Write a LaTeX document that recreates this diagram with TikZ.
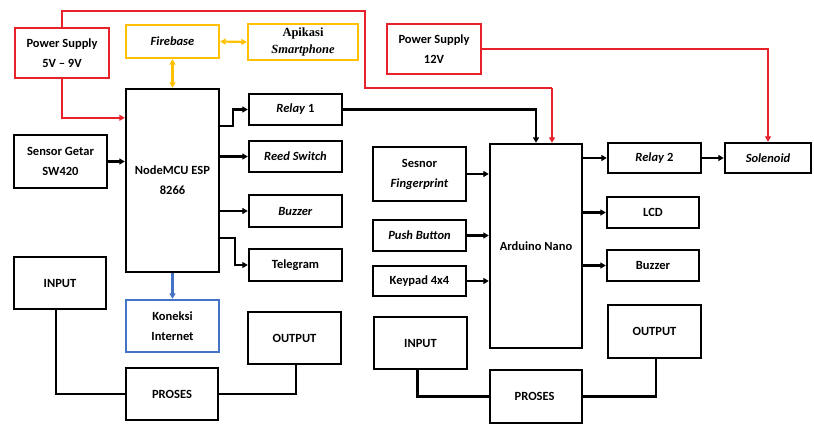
\documentclass[tikz,border=0pt]{standalone}
\usepackage{fontspec}
\setmainfont{Carlito}
\newfontfamily\appfont{Liberation Serif}
\usepackage{xcolor}
\usepackage{tikz}
\usetikzlibrary{arrows.meta,positioning,calc}
\definecolor{pwrRed}{HTML}{E8212B}
\definecolor{cloudOr}{HTML}{FFC000}
\definecolor{netBlue}{HTML}{4472C4}
\tikzset{
  blk/.style = {rectangle, draw, line width=2.4pt, inner sep=1pt, align=center, fill=white},
  pwr/.style = {draw=pwrRed, line width=2.2pt},
  wire/.style = {line width=2.2pt, -{Triangle[length=5.5pt,width=6pt]}},
  link/.style = {line width=2.2pt},
}

\begin{document}
\begin{tikzpicture}[x=1pt,y=-1pt,font=\bfseries\fontsize{12.5}{20}\selectfont]
  \useasboundingbox (0,0) rectangle (814,425);

  \foreach \n/\x/\y/\w/\h/\t in {
    node/172.5/180.5/93/183/{NodeMCU ESP\\8266},
    getar/60.5/161.5/93/53/{Sensor Getar\\SW420},
    relayA/295.5/109.5/93/31/{\textit{Relay} 1},
    reed/295.5/156.5/93/31/{\textit{Reed Switch}},
    buzA/295.5/211/93/32/{\textit{Buzzer}},
    tele/295.5/265/93/32/{Telegram},
    inA/60/283/92/52/{INPUT},
    outA/294.5/338/93/52/{OUTPUT},
    procA/172/394/92/52/{PROSES},
    nano/536/246/92/204/{Arduino Nano},
    finger/419.5/174/93/54/{Sesnor\\\textit{Fingerprint}},
    push/419.5/235.5/93/31/{\textit{Push Button}},
    keypad/419.5/281/93/30/{Keypad 4x4},
    relayB/654.5/158/93/30/{\textit{Relay} 2},
    sol/768/158/86/30/{\textit{Solenoid}},
    lcd/653/212.5/92/31/{LCD},
    buzB/653/265.5/92/31/{Buzzer},
    inB/420.5/343/93/52/{INPUT},
    outB/654.5/331.5/93/53/{OUTPUT},
    procB/536/396.5/92/53/{PROSES}
  }{
    \node[blk, minimum width=\w, minimum height=\h] (\n) at (\x,\y) {\t};
  }

  \node[blk, draw=pwrRed, minimum width=94, minimum height=50] (ps1) at (62,53) {Power Supply\\5V -- 9V};
  \node[blk, draw=pwrRed, minimum width=94, minimum height=50] (ps2) at (434,49) {Power Supply\\12V};
  \node[blk, draw=cloudOr, minimum width=93, minimum height=33] (fire) at (172.5,41.5) {\textit{Firebase}};
  \node[blk, draw=cloudOr, minimum width=110, minimum height=36, font=\appfont\bfseries\fontsize{12.5}{17}\selectfont] (app) at (303,42) {Apikasi\\\textit{Smartphone}};
  \node[blk, draw=netBlue, minimum width=93, minimum height=52] (inet) at (172.5,326) {Koneksi\\Internet};

  \draw[pwr] (ps1.north) |- (365,11) |- ($(nano.north)+(16,-55)$);
  \draw[pwr, -{Triangle[length=5.5pt,width=6pt]}] ($(nano.north)+(16,-55)$) -- ($(nano.north)+(16,0)$);
  \draw[pwr, -{Triangle[length=5.5pt,width=6pt]}] (ps1.south) |- ([yshift=-30pt]node.north west);
  \draw[pwr, -{Triangle[length=5.5pt,width=6pt]}] (ps2.east) -| (sol.north);

  \draw[draw=cloudOr, line width=2.2pt, {Triangle[length=5.5pt,width=6pt]}-{Triangle[length=5.5pt,width=6pt]}] (fire.east) -- (app.west);
  \draw[draw=cloudOr, line width=2.2pt, {Triangle[length=5.5pt,width=6pt]}-{Triangle[length=5.5pt,width=6pt]}] (fire.south) -- (node.north);
  \draw[wire, draw=netBlue] (node.south) -- (inet.north);

  \draw[wire] (getar.east) -- (getar.east -| node.west);
  \draw[wire] ([yshift=-38pt]node.north east) -- ++(13,0) |- (relayA.west);
  \draw[wire] (reed.west -| node.east) -- (reed.west);
  \draw[wire] (buzA.west -| node.east) -- (buzA.west);
  \draw[wire] ([yshift=-150pt]node.north east) -- ++(15,0) |- (tele.west);
  \draw[wire] (relayA.east) -| (nano.north);

  \foreach \src in {finger,push,keypad}{
    \draw[wire] (\src.east) -- (\src.east -| nano.west);
  }
  \foreach \dst in {relayB,lcd,buzB}{
    \draw[wire] (\dst.west -| nano.east) -- (\dst.west);
  }
  \draw[wire] (relayB.east) -- (sol.west);

  \draw[link] ([xshift=-4pt]inA.south) |- (procA.west);
  \draw[link] (procA.east) -| ([xshift=1.5pt]outA.south);
  \draw[link] ([xshift=-3pt]inB.south) |- (procB.west);
  \draw[link] (procB.east) -| ([xshift=1.5pt]outB.south);
\end{tikzpicture}
\end{document}
